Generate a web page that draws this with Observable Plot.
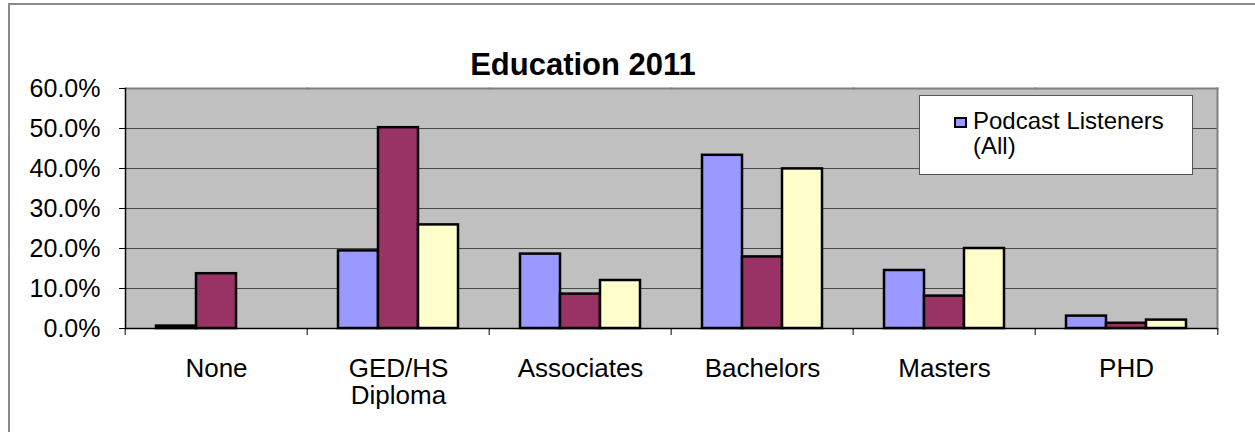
<!DOCTYPE html>
<html>
<head>
<meta charset="utf-8">
<script src="https://cdn.jsdelivr.net/npm/d3@7"></script>
<script src="https://cdn.jsdelivr.net/npm/@observablehq/plot@0.6"></script>
<style>
  html, body { margin: 0; padding: 0; background: #fff; }
  #wrap { position: relative; width: 1255px; height: 432px; overflow: hidden; font-family: "Liberation Sans", Arial, sans-serif; color: #000; }
  #border { position: absolute; left: 8px; top: 3px; width: 1260px; height: 440px; border-top: 2px solid #8a8a8a; border-left: 2px solid #8a8a8a; box-sizing: border-box; }
  #chart { position: absolute; left: 0; top: 0; }
  #title { position: absolute; left: 0; width: 1166px; top: 49px; text-align: center; font-weight: bold; font-size: 31px; line-height: 31px; }
  #legend { position: absolute; left: 919px; top: 95px; width: 274px; height: 80px; box-sizing: border-box; border: 1px solid #555; background: #fff; }
  #legend .sw { position: absolute; left: 34px; top: 21px; width: 13px; height: 11px; box-sizing: border-box; border: 2px solid #000; }
  #legend .lab { position: absolute; left: 53px; top: 12px; font-size: 24px; line-height: 25px; white-space: pre; }
</style>
</head>
<body>
<div id="wrap">
  <div id="border"></div>
  <div id="chart"></div>
  <div id="title"></div>
  <div id="legend"></div>
</div>
<script>
// ---- data ----
const titleText = "Education 2011";
const categories = ["None", "GED/HS\nDiploma", "Associates", "Bachelors", "Masters", "PHD"];
const seriesNames = ["Podcast Listeners (All)", "Series 2", "Series 3"];
const seriesColors = ["#9999ff", "#993366", "#ffffcc"];
const listenersAll = [0.6, 19.4, 18.6, 43.3, 14.5, 3.1];
const series2 = [13.7, 50.2, 8.6, 17.9, 8.1, 1.3];
const series3 = [null, 25.9, 12.0, 39.9, 20.0, 2.1];
const yTicks = [0, 10, 20, 30, 40, 50, 60];
const yTickLabels = ["0.0%", "10.0%", "20.0%", "30.0%", "40.0%", "50.0%", "60.0%"];
const legendShown = ["Podcast Listeners\n(All)"];

const seriesValues = [listenersAll, series2, series3];
const data = categories.flatMap((c, i) =>
  seriesNames.map((s, j) => ({category: c, series: s, value: seriesValues[j][i]}))
).filter(d => d.value != null);

const W = 1255, H = 432, mL = 123, mR = 36, mT = 88, mB = 104;
const facetW = (W - mL - mR) / categories.length;
const font = "'Liberation Sans', Arial, sans-serif";

const chart = Plot.plot({
  width: W, height: H,
  marginLeft: mL, marginRight: mR, marginTop: mT, marginBottom: mB,
  style: {background: "none", fontFamily: font, color: "#000", overflow: "visible"},
  fx: {domain: categories, padding: 0, label: null},
  x: {domain: seriesNames, paddingInner: 0, paddingOuter: 0.727, axis: null},
  y: {domain: [0, 60], label: null},
  color: {domain: seriesNames, range: seriesColors},
  marks: [
    Plot.frame({fill: "#c0c0c0", stroke: null, shapeRendering: "crispEdges"}),
    Plot.ruleY(yTicks.slice(1, -1), {stroke: "#4a4a4a", strokeWidth: 1.2}),
    Plot.frame({anchor: "top", stroke: "#808080", strokeWidth: 2}),
    Plot.frame({anchor: "right", facetAnchor: "right", stroke: "#808080", strokeWidth: 2}),
    Plot.barY(data, {fx: "category", x: "series", y: "value", fill: "series", stroke: "#000", strokeWidth: 2.5}),
    Plot.ruleY([0], {stroke: "#000", strokeWidth: 1.5}),
    Plot.frame({anchor: "left", facetAnchor: "left", stroke: "#000", strokeWidth: 1.5}),
    Plot.axisY({anchor: "left", ticks: yTicks, tickSize: 6, tickPadding: 19, fontSize: 25,
      tickFormat: d => yTickLabels[yTicks.indexOf(d)], label: null}),
    Plot.axisFx({anchor: "bottom", tickSize: 0, tickPadding: 29, fontSize: 26, lineHeight: 1.05, label: null}),
    Plot.axisFx({anchor: "bottom", tickSize: 7, dx: -facetW / 2, tickFormat: () => "", label: null}),
    Plot.axisFx({anchor: "bottom", ticks: [categories[categories.length - 1]], tickSize: 7, dx: facetW / 2, tickFormat: () => "", label: null})
  ]
});
document.getElementById("chart").appendChild(chart);
document.getElementById("title").textContent = titleText;

const legend = document.getElementById("legend");
legendShown.forEach((name, i) => {
  const sw = document.createElement("div");
  sw.className = "sw";
  sw.style.background = seriesColors[i];
  legend.appendChild(sw);
  const lab = document.createElement("div");
  lab.className = "lab";
  lab.textContent = name;
  legend.appendChild(lab);
});
</script>
</body>
</html>
